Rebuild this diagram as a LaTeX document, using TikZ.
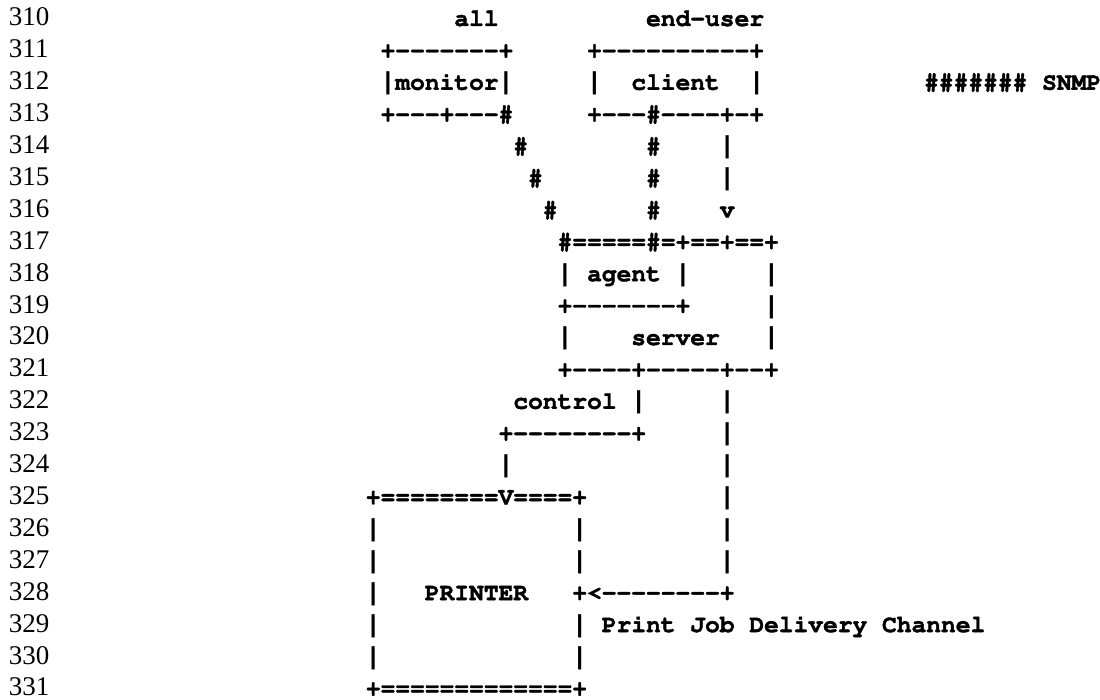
\documentclass[tikz,border=0pt]{standalone}
\usepackage[T1]{fontenc}
\usepackage{fontspec}
\setmainfont{Liberation Serif}
\setmonofont{Liberation Mono}
\newfontfamily\barfont{Liberation Mono}
\newcommand\heavyon{\special{pdf:literal direct 2 Tr 0.35 w}}
\newcommand\heavyoff{\special{pdf:literal direct 0 Tr}}
\newcommand\courb{\fontencoding{T1}\fontfamily{pcr}\fontseries{b}\fontshape{n}\fontsize{24.58pt}{24.58pt}\selectfont}
\newcommand\vb{{\heavyoff\barfont\bfseries\fontsize{24.58pt}{24.58pt}\selectfont|\heavyon}}
\tikzset{
  asc/.style={anchor=base west, inner sep=0pt, outer sep=0pt, font=\courb},
  lnum/.style={anchor=base west, inner sep=0pt, outer sep=0pt,
    font=\rmfamily\fontsize{27pt}{27pt}\selectfont}
}
\newcommand\seg[4]{\node[asc] (#1) at ({380.6pt+(#2)*14.75pt},{-(26pt+(#3-310)*31.9pt)}) {\heavyon#4\heavyoff};}
\begin{document}
\begin{tikzpicture}
\fill[white] (0,0) rectangle (1100pt,-700pt);
\useasboundingbox (0,0) rectangle (1100pt,-700pt);
\foreach \i in {310,...,331}
  \node[lnum] (n\i) at (9pt,{-(26pt+(\i-310)*31.9pt)}) {\i};
% 310
\seg{all}{5}{310}{all}
\seg{enduser}{18}{310}{end-user}
% 311
\seg{montop}{0}{311}{+-{}-{}-{}-{}-{}-{}-+}
\seg{clitop}{14}{311}{+-{}-{}-{}-{}-{}-{}-{}-{}-{}-+}
% 312
\seg{monmid}{0}{312}{\vb monitor\vb}
\seg{climid}{14}{312}{\vb~~client~~\vb}
\seg{snmp}{36.85}{312}{\#\#\#\#\#\#\#~SNMP}
% 313
\seg{monbot}{0}{313}{+-{}-{}-+-{}-{}-\#}
\seg{clibot}{14}{313}{+-{}-{}-\#-{}-{}-{}-+-+}
% 314-316
\seg{da314}{9}{314}{\#}
\seg{db314}{18}{314}{\#}
\seg{dc314}{23}{314}{\vb}
\seg{da315}{10}{315}{\#}
\seg{db315}{18}{315}{\#}
\seg{dc315}{23}{315}{\vb}
\seg{da316}{11}{316}{\#}
\seg{db316}{18}{316}{\#}
\seg{dc316}{23}{316}{v}
% 317-321
\seg{srvtop}{12}{317}{\#=====\#=+==+==+}
\seg{agentmid}{12}{318}{\vb~agent~\vb}
\seg{r318}{26}{318}{\vb}
\seg{agentbot}{12}{319}{+-{}-{}-{}-{}-{}-{}-+}
\seg{r319}{26}{319}{\vb}
\seg{srvmid}{12}{320}{\vb~~~~server~~~\vb}
\seg{srvbot}{12}{321}{+-{}-{}-{}-+-{}-{}-{}-{}-+-{}-+}
% 322-324
\seg{control}{9}{322}{control~\vb}
\seg{r322}{23}{322}{\vb}
\seg{ctlbend}{8}{323}{+-{}-{}-{}-{}-{}-{}-{}-+}
\seg{r323}{23}{323}{\vb}
\seg{ctl324}{8}{324}{\vb}
\seg{r324}{23}{324}{\vb}
% 325-331
\seg{prttop}{-1}{325}{+========V====+}
\seg{r325}{23}{325}{\vb}
\seg{pl326}{-1}{326}{\vb}
\seg{pr326}{13}{326}{\vb}
\seg{r326}{23}{326}{\vb}
\seg{pl327}{-1}{327}{\vb}
\seg{pr327}{13}{327}{\vb}
\seg{r327}{23}{327}{\vb}
\seg{prtmid}{-1}{328}{\vb~~~PRINTER~~~+<-{}-{}-{}-{}-{}-{}-{}-+}
\seg{pl329}{-1}{329}{\vb}
\seg{chan}{13}{329}{\vb~Print~Job~Delivery~Channel}
\seg{pl330}{-1}{330}{\vb}
\seg{pr330}{13}{330}{\vb}
\seg{prtbot}{-1}{331}{+=============+}
\end{tikzpicture}
\end{document}
